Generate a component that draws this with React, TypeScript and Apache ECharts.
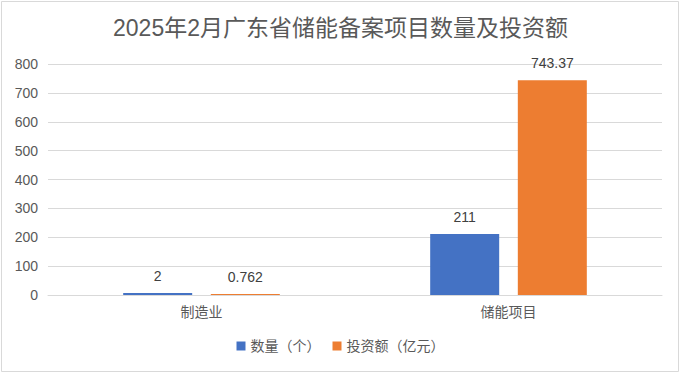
import React, { useEffect, useRef } from "react";
import * as echarts from "echarts";

const categories = ["制造业", "储能项目"];
const countValues = [2, 211];
const investValues = [0.762, 743.37];
const seriesNames = ["数量（个）", "投资额（亿元）"];
const titleText = "2025年2月广东省储能备案项目数量及投资额";

export default function App() {
  const ref = useRef<HTMLDivElement>(null);
  useEffect(() => {
    document.body.style.margin = "0";
    const chart = echarts.init(ref.current!, null, { renderer: "svg" });
    const font = "'Liberation Sans', 'Noto Sans CJK SC', sans-serif";
    chart.setOption({
      animation: false,
      backgroundColor: "#ffffff",
      textStyle: { fontFamily: font },
      title: {
        text: titleText,
        left: "center",
        top: 11,
        textStyle: { fontSize: 23, fontWeight: "normal", color: "#595959", fontFamily: font },
      },
      legend: {
        bottom: 16,
        left: "center",
        itemWidth: 9,
        itemHeight: 9,
        itemGap: 12,
        icon: "rect",
        textStyle: { fontSize: 14, color: "#595959", fontFamily: font },
        data: seriesNames,
      },
      grid: { left: 48, right: 19, top: 64, bottom: 79, containLabel: false },
      xAxis: {
        type: "category",
        data: categories,
        axisLine: { show: true, lineStyle: { color: "#d9d9d9" } },
        axisTick: { show: false },
        axisLabel: { color: "#595959", fontSize: 14, margin: 10, fontFamily: font },
      },
      yAxis: {
        type: "value",
        min: 0,
        max: 800,
        interval: 100,
        axisLine: { show: false },
        axisTick: { show: false },
        splitLine: { lineStyle: { color: "#d9d9d9" } },
        axisLabel: { color: "#595959", fontSize: 14, margin: 10, fontFamily: font },
      },
      graphic: [
        {
          type: "rect",
          shape: { x: 1.5, y: 1.5, width: 677, height: 370 },
          style: { fill: "none", stroke: "#d9d9d9", lineWidth: 1 },
          silent: true,
        },
      ],
      series: [
        {
          name: seriesNames[0],
          type: "bar",
          data: countValues,
          barWidth: 69,
          barGap: "27%",
          barMinHeight: 2,
          itemStyle: { color: "#4472C4" },
          label: { show: true, position: "top", distance: 10, color: "#404040", fontSize: 14, fontFamily: font },
        },
        {
          name: seriesNames[1],
          type: "bar",
          data: investValues,
          barWidth: 69,
          barMinHeight: 1,
          itemStyle: { color: "#ED7D31" },
          label: { show: true, position: "top", distance: 10, color: "#404040", fontSize: 14, fontFamily: font },
        },
      ],
    });
    return () => chart.dispose();
  }, []);
  return <div ref={ref} style={{ width: 681, height: 374 }} />;
}
